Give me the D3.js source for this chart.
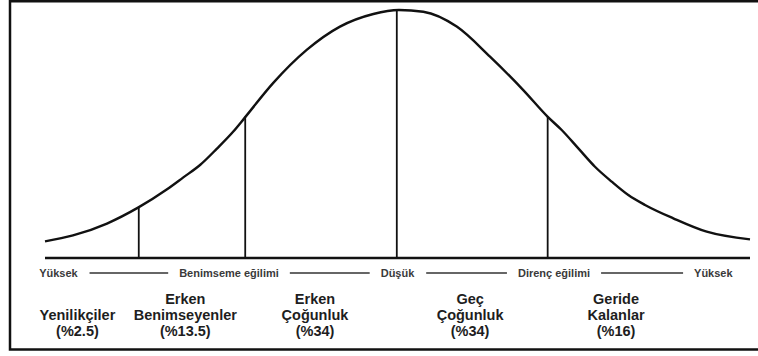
<!DOCTYPE html>
<html>
<head>
<meta charset="utf-8">
<script src="https://cdn.jsdelivr.net/npm/d3@7"></script>
<style>
  html, body { margin: 0; padding: 0; background: #fff; }
  svg { display: block; }
</style>
</head>
<body>
<svg id="chart" width="758" height="356"></svg>
<script>
// ---- data (position along the axis 0..100, relative curve height 0..100) ----
const curveX = [0, 3.97, 8.79, 13.26, 17.26, 19.62, 21.99, 24.35, 26.71, 28.37, 32.38, 37.12, 41.84, 46.57, 50.21, 53.66, 58.40, 63.12, 67.84, 71.28, 73.29, 75.65, 78.01, 80.38, 82.74, 85.11, 89.12, 93.86, 100];
const curveY = [6.7, 9.1, 13.9, 20.4, 27.6, 32.5, 37.5, 44.0, 51.0, 56.7, 70.6, 83.9, 93.3, 98.4, 100, 99.3, 93.3, 81.2, 67.7, 57.0, 51.6, 44.2, 36.8, 30.8, 25.4, 21.4, 16.0, 10.6, 7.5];

const dividerX = [13.3, 28.4, 49.9, 71.3];
const dividerY = [20.4, 57.0, 100, 57.0];

const scaleLabels = ["Yüksek", "Benimseme eğilimi", "Düşük", "Direnç eğilimi", "Yüksek"];
const scaleLabelX = [1.9, 26.1, 50.0, 72.2, 94.8];

const categories = [
  ["", "Yenilikçiler"],
  ["Erken", "Benimseyenler"],
  ["Erken", "Çoğunluk"],
  ["Geç", "Çoğunluk"],
  ["Geride", "Kalanlar"]
];
const shares = ["(%2.5)", "(%13.5)", "(%34)", "(%34)", "(%16)"];
const categoryX = [4.6, 19.9, 38.3, 60.3, 81.0];

// ---- drawing ----
const svg = d3.select("#chart");
const x = d3.scaleLinear().domain([0, 100]).range([45, 750]);
const y = d3.scaleLinear().domain([0, 100]).range([258, 10]);

// frame (open on the right side)
svg.append("path")
  .attr("d", "M758,1.25 H10 V349.5 H758")
  .attr("fill", "none")
  .attr("stroke", "#111")
  .attr("stroke-width", 2.5);

// baseline
svg.append("line")
  .attr("x1", x(0)).attr("x2", x(100))
  .attr("y1", y(0)).attr("y2", y(0))
  .attr("stroke", "#111").attr("stroke-width", 2.6);

// dividers
svg.selectAll("line.div")
  .data(dividerX.map((d, i) => ({ x: d, y: dividerY[i] })))
  .join("line")
  .attr("class", "div")
  .attr("x1", d => x(d.x)).attr("x2", d => x(d.x))
  .attr("y1", y(0)).attr("y2", d => y(d.y))
  .attr("stroke", "#111").attr("stroke-width", 1.8);

// bell curve
const pts = curveX.map((d, i) => [d, curveY[i]]);
svg.append("path")
  .datum(pts)
  .attr("fill", "none")
  .attr("stroke", "#111")
  .attr("stroke-width", 2.4)
  .attr("d", d3.line().x(d => x(d[0])).y(d => y(d[1])).curve(d3.curveMonotoneX));

// scale labels with connecting rules
const sl = svg.selectAll("text.sl")
  .data(scaleLabels)
  .join("text")
  .attr("class", "sl")
  .attr("x", (d, i) => x(scaleLabelX[i]))
  .attr("y", 277)
  .attr("text-anchor", "middle")
  .attr("font-family", "Liberation Sans, Arial, sans-serif")
  .attr("font-weight", "bold")
  .attr("font-size", 11)
  .attr("fill", "#3a3a3a")
  .text(d => d);

const boxes = sl.nodes().map(n => n.getBBox());
const gap = 11;
for (let i = 0; i < boxes.length - 1; i++) {
  svg.append("line")
    .attr("x1", boxes[i].x + boxes[i].width + gap)
    .attr("x2", boxes[i + 1].x - gap)
    .attr("y1", 273).attr("y2", 273)
    .attr("stroke", "#333").attr("stroke-width", 1.3);
}

// category labels
const rows = [304, 320, 336];
const cg = svg.selectAll("g.cat")
  .data(categories.map((c, i) => ({ lines: c, share: shares[i], x: categoryX[i] })))
  .join("g")
  .attr("class", "cat")
  .attr("font-family", "Liberation Sans, Arial, sans-serif")
  .attr("font-weight", "bold")
  .attr("font-size", 14.5)
  .attr("fill", "#1e1e1e")
  .attr("text-anchor", "middle");

cg.each(function (d) {
  const g = d3.select(this);
  d.lines.forEach((t, j) => {
    if (t) g.append("text").attr("x", x(d.x)).attr("y", rows[j]).text(t);
  });
  g.append("text").attr("x", x(d.x)).attr("y", rows[2]).text(d.share);
});
</script>
</body>
</html>
